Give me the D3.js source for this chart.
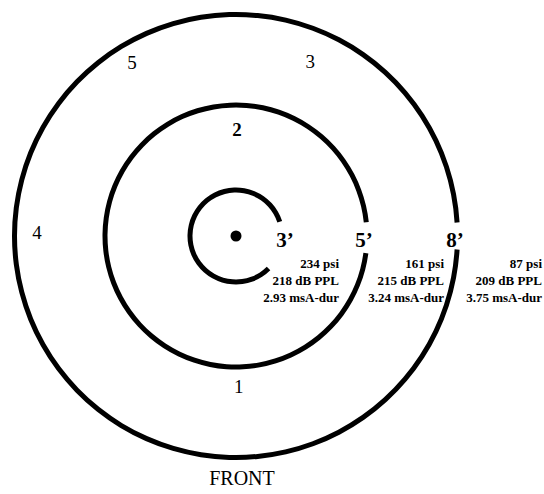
<!DOCTYPE html>
<html>
<head>
<meta charset="utf-8">
<script src="https://cdn.jsdelivr.net/npm/d3@7/dist/d3.min.js"></script>
<style>
html,body{margin:0;padding:0;background:#fff;}
svg{display:block;}
text{font-family:"Liberation Serif","Times New Roman",serif;fill:#000;}
</style>
</head>
<body>
<div id="chart"></div>
<script>
// Data
const distances = ["3’", "5’", "8’"];
const distanceFeet = [3, 5, 8];
const psiValues = [234, 161, 87];
const dbPPL = [218, 215, 209];
const msaDur = [2.93, 3.24, 3.75];
const positionLabels = ["1", "2", "3", "4", "5"];
const caption = "FRONT";

const W = 544, H = 494;
const cx = 236, cy = 236;

const svg = d3.select("#chart").append("svg").attr("width", W).attr("height", H);
const g = svg.append("g").attr("transform", `translate(${cx},${cy})`);

// radius scale: feet -> px
const rScale = d3.scaleLinear().domain(distanceFeet).range([46, 131, 221.5]);

// gaps (in degrees, d3 convention 0 = north, clockwise) where labels sit
const gaps = [[72, 135], [84, 97.5], [86.5, 93.5]];
const rad = d => d * Math.PI / 180;

const arc = d3.arc();
distanceFeet.forEach((f, i) => {
  const r = rScale(f);
  g.append("path")
    .attr("d", arc({innerRadius: r - 2.5, outerRadius: r + 2.5,
                    startAngle: rad(gaps[i][1]), endAngle: rad(gaps[i][0] + 360)}))
    .attr("fill", "#000");
});

// center dot
g.append("circle").attr("r", 5.5).attr("fill", "#000");

// distance labels on the rings
const labelR = [49, 128, 219];
distances.forEach((d, i) => {
  g.append("text")
    .attr("x", labelR[i])
    .attr("y", 11)
    .attr("text-anchor", "middle")
    .attr("font-size", 21)
    .attr("font-weight", "bold")
    .text(d);
});

// measurement blocks
const blockRight = [103, 208, 306];
const lineY = [32, 49, 66];
distanceFeet.forEach((f, i) => {
  const lines = [`${psiValues[i]} psi`, `${dbPPL[i]} dB PPL`, `${msaDur[i].toFixed(2)} msA-dur`];
  lines.forEach((t, j) => {
    g.append("text")
      .attr("x", blockRight[i])
      .attr("y", lineY[j])
      .attr("text-anchor", "end")
      .attr("font-size", 13)
      .attr("font-weight", "bold")
      .text(t);
  });
});

// position numbers (polar placement: angle in degrees from north, clockwise; radius px)
const posAngle = [179, 0.5, 23, 271, 329];
const posRadius = [151, 107, 190, 199, 202];
const posBold = [false, true, false, false, false];
positionLabels.forEach((p, i) => {
  const a = rad(posAngle[i]);
  g.append("text")
    .attr("x", posRadius[i] * Math.sin(a))
    .attr("y", -posRadius[i] * Math.cos(a) + 6.5)
    .attr("text-anchor", "middle")
    .attr("font-size", 19)
    .attr("font-weight", posBold[i] ? "bold" : "normal")
    .text(p);
});

// caption
svg.append("text")
  .attr("x", 242)
  .attr("y", 485)
  .attr("text-anchor", "middle")
  .attr("font-size", 20)
  .text(caption);
</script>
</body>
</html>
